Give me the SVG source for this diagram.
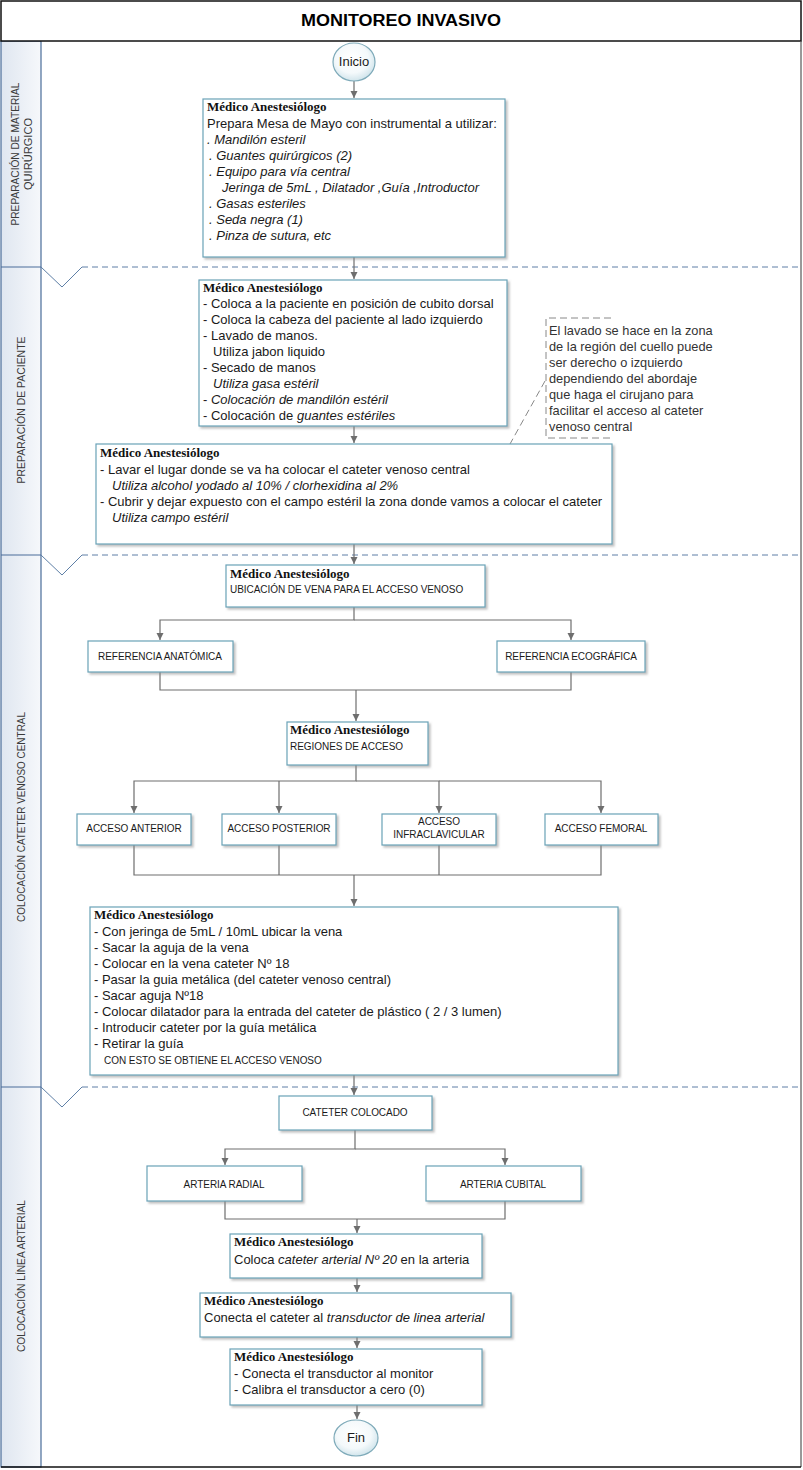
<svg xmlns="http://www.w3.org/2000/svg" width="803" height="1470" viewBox="0 0 803 1470">
<defs>
<linearGradient id="laneG" x1="0" y1="0" x2="1" y2="0">
<stop offset="0" stop-color="#dfe6f0"/><stop offset="1" stop-color="#f6f8fb"/>
</linearGradient>
<radialGradient id="ellG" cx="0.45" cy="0.4" r="0.65">
<stop offset="0" stop-color="#ffffff"/><stop offset="0.6" stop-color="#f4f9fb"/><stop offset="1" stop-color="#c9e0e8"/>
</radialGradient>
<filter id="sh" x="-5%" y="-5%" width="115%" height="125%">
<feDropShadow dx="2" dy="2" stdDeviation="1.2" flood-color="#8a8a8a" flood-opacity="0.55"/>
</filter>
<marker id="ar" markerWidth="8" markerHeight="8" refX="7" refY="4" orient="auto" markerUnits="userSpaceOnUse">
<path d="M0,0.5 L7,4 L0,7.5 Z" fill="#6e6e6e"/>
</marker>
</defs>
<style>
.box{fill:#ffffff;stroke:#6aa3b8;stroke-width:1.2;filter:url(#sh)}
.ell{fill:url(#ellG);stroke:#7eaab9;stroke-width:1.2}
.hd{font-family:"Liberation Serif",serif;font-weight:bold;font-size:13px;fill:#111}
.tx{font-family:"Liberation Sans",Arial,sans-serif;font-size:13px;fill:#1a1a1a}
.nt{font-family:"Liberation Sans",Arial,sans-serif;font-size:12.8px;fill:#333}
.it{font-style:italic}
.sm{font-family:"Liberation Sans",Arial,sans-serif;font-size:10px;fill:#1a1a1a;letter-spacing:-0.05px}
.lane{font-family:"Liberation Sans",Arial,sans-serif;font-size:10.5px;fill:#3a3a3a}
.cn{fill:none;stroke:#6e6e6e;stroke-width:1.2}
.sep{fill:none;stroke:#5e7fa6;stroke-width:1;stroke-dasharray:6,4}
.notch{fill:none;stroke:#5e7fa6;stroke-width:1}
.note{fill:none;stroke:#888;stroke-width:1;stroke-dasharray:7,4}
</style>
<rect x="0" y="0" width="803" height="1470" fill="#ffffff"/>
<!-- frame and lanes -->
<g id="frame">
<rect x="1" y="41" width="40" height="1426" fill="url(#laneG)" stroke="#4a6d99" stroke-width="1.2"/>
<line x1="1" y1="267" x2="41" y2="267" stroke="#4a6d99" stroke-width="1.2"/>
<line x1="1" y1="555" x2="41" y2="555" stroke="#4a6d99" stroke-width="1.2"/>
<line x1="1" y1="1087" x2="41" y2="1087" stroke="#4a6d99" stroke-width="1.2"/>
<rect x="1" y="1" width="800" height="40" fill="#ffffff" stroke="#111" stroke-width="1.5"/>
<line x1="801" y1="41" x2="801" y2="1467" stroke="#555" stroke-width="1.2"/>
<line x1="1" y1="1467" x2="801" y2="1467" stroke="#111" stroke-width="1.5"/>
<text x="401" y="26" text-anchor="middle" font-family="'Liberation Sans',Arial,sans-serif" font-weight="bold" font-size="16" fill="#000" textLength="200" lengthAdjust="spacingAndGlyphs">MONITOREO INVASIVO</text>
<path class="notch" d="M41,267 L62,287 L82,267"/>
<line class="sep" x1="82" y1="267" x2="800" y2="267"/>
<path class="notch" d="M41,555 L62,575 L82,555"/>
<line class="sep" x1="82" y1="555" x2="800" y2="555"/>
<path class="notch" d="M41,1087 L62,1107 L82,1087"/>
<line class="sep" x1="82" y1="1087" x2="800" y2="1087"/>
<text class="lane" transform="translate(19,154) rotate(-90)" text-anchor="middle" textLength="143" lengthAdjust="spacingAndGlyphs">PREPARACIÓN DE MATERIAL</text>
<text class="lane" transform="translate(32,154) rotate(-90)" text-anchor="middle" textLength="72" lengthAdjust="spacingAndGlyphs">QUIRÚRGICO</text>
<text class="lane" transform="translate(25,410) rotate(-90)" text-anchor="middle" textLength="147" lengthAdjust="spacingAndGlyphs">PREPARACIÓN DE PACIENTE</text>
<text class="lane" transform="translate(25,817) rotate(-90)" text-anchor="middle" textLength="210" lengthAdjust="spacingAndGlyphs">COLOCACIÓN CATETER VENOSO CENTRAL</text>
<text class="lane" transform="translate(25,1276) rotate(-90)" text-anchor="middle" textLength="152" lengthAdjust="spacingAndGlyphs">COLOCACIÓN LÍNEA ARTERIAL</text>
</g>
<!-- connectors -->
<g id="connectors">
<line class="cn" x1="354" y1="81" x2="354" y2="98" marker-end="url(#ar)"/>
<line class="cn" x1="354" y1="257" x2="354" y2="279" marker-end="url(#ar)"/>
<line class="cn" x1="354" y1="426" x2="354" y2="443" marker-end="url(#ar)"/>
<line class="cn" x1="354" y1="544" x2="354" y2="564" marker-end="url(#ar)"/>
<path class="cn" d="M354,607 V620 H160 V640" marker-end="url(#ar)"/>
<path class="cn" d="M354,620 H571 V640" marker-end="url(#ar)"/>
<path class="cn" d="M160,672 V690 H571 V672"/>
<line class="cn" x1="356" y1="690" x2="356" y2="721" marker-end="url(#ar)"/>
<path class="cn" d="M356,765 V781 H134 V813" marker-end="url(#ar)"/>
<path class="cn" d="M279,781 V813" marker-end="url(#ar)"/>
<path class="cn" d="M356,781 H439 V813" marker-end="url(#ar)"/>
<path class="cn" d="M439,781 H601 V813" marker-end="url(#ar)"/>
<path class="cn" d="M134,845 V875 H601 V845"/>
<line class="cn" x1="279" y1="845" x2="279" y2="875"/>
<line class="cn" x1="439" y1="845" x2="439" y2="875"/>
<line class="cn" x1="354" y1="875" x2="354" y2="906" marker-end="url(#ar)"/>
<line class="cn" x1="354" y1="1075" x2="354" y2="1095" marker-end="url(#ar)"/>
<path class="cn" d="M355,1130 V1149 H225 V1165" marker-end="url(#ar)"/>
<path class="cn" d="M355,1149 H505 V1165" marker-end="url(#ar)"/>
<path class="cn" d="M225,1201 V1219 H505 V1201"/>
<line class="cn" x1="357" y1="1219" x2="357" y2="1233" marker-end="url(#ar)"/>
<line class="cn" x1="357" y1="1278" x2="357" y2="1292" marker-end="url(#ar)"/>
<line class="cn" x1="357" y1="1337" x2="357" y2="1348" marker-end="url(#ar)"/>
<line class="cn" x1="357" y1="1405" x2="357" y2="1419" marker-end="url(#ar)"/>
<path class="note" d="M611,318 H546 V438 H611"/>
<line class="note" x1="545" y1="381" x2="510" y2="444"/>
</g>
<g id="inicio">
<ellipse class="ell" cx="354" cy="62" rx="21" ry="19"/>
<text class="tx" x="354" y="66" text-anchor="middle" font-size="12px">Inicio</text>
</g>
<g id="n1">
<rect class="box" x="203" y="99" width="302" height="158"/>
<text class="hd" x="207" y="111">Médico Anestesiólogo</text>
<text class="tx" x="207" y="128">Prepara Mesa de Mayo con instrumental a utilizar:</text>
<text class="tx it" x="207" y="144">. Mandilón esteril</text>
<text class="tx it" x="209" y="160">. Guantes quirúrgicos (2)</text>
<text class="tx it" x="209" y="176">. Equipo para vía central</text>
<text class="tx it" x="222" y="192">Jeringa de 5mL , Dilatador ,Guía ,Introductor</text>
<text class="tx it" x="209" y="208">. Gasas esteriles</text>
<text class="tx it" x="209" y="224">. Seda negra (1)</text>
<text class="tx it" x="209" y="240">. Pinza de sutura, etc</text>
</g>
<g id="n2">
<rect class="box" x="199" y="280" width="308" height="146"/>
<text class="hd" x="203" y="292">Médico Anestesiólogo</text>
<text class="tx" x="203" y="308">- Coloca a la paciente en posición de cubito dorsal</text>
<text class="tx" x="203" y="324">- Coloca la cabeza del paciente al lado izquierdo</text>
<text class="tx" x="203" y="340">- Lavado de manos.</text>
<text class="tx" x="213" y="356">Utiliza jabon liquido</text>
<text class="tx" x="203" y="372">- Secado de manos</text>
<text class="tx it" x="213" y="388">Utiliza gasa estéril</text>
<text class="tx" x="203" y="404">- <tspan class="it">Colocación de mandilón estéril</tspan></text>
<text class="tx" x="203" y="420">- Colocación de <tspan class="it">guantes estériles</tspan></text>
</g>
<g id="nota">
<text class="nt" x="549" y="335">El lavado se hace en la zona</text>
<text class="nt" x="549" y="351">de la región del cuello puede</text>
<text class="nt" x="549" y="367">ser derecho o izquierdo</text>
<text class="nt" x="549" y="383">dependiendo del abordaje</text>
<text class="nt" x="549" y="399">que haga el cirujano para</text>
<text class="nt" x="549" y="415">facilitar el acceso al cateter</text>
<text class="nt" x="549" y="431">venoso central</text>
</g>
<g id="n3">
<rect class="box" x="96" y="444" width="516" height="100"/>
<text class="hd" x="100" y="457">Médico Anestesiólogo</text>
<text class="tx" x="100" y="474">- Lavar el lugar donde se va ha colocar el cateter venoso central</text>
<text class="tx it" x="112" y="490">Utiliza alcohol yodado al 10% / clorhexidina al 2%</text>
<text class="tx" x="100" y="506">- Cubrir y dejar expuesto con el campo estéril la zona donde vamos a colocar el cateter</text>
<text class="tx it" x="112" y="522">Utiliza campo estéril</text>
</g>
<g id="n4">
<rect class="box" x="226" y="565" width="259" height="42"/>
<text class="hd" x="230" y="578">Médico Anestesiólogo</text>
<text class="sm" x="230" y="593">UBICACIÓN DE VENA PARA EL ACCESO VENOSO</text>
</g>
<g id="refana">
<rect class="box" x="88" y="641" width="145" height="31"/>
<text class="sm" x="160" y="660" text-anchor="middle">REFERENCIA ANATÓMICA</text>
</g>
<g id="refeco">
<rect class="box" x="497" y="641" width="148" height="31"/>
<text class="sm" x="571" y="660" text-anchor="middle">REFERENCIA ECOGRÁFICA</text>
</g>
<g id="regiones">
<rect class="box" x="287" y="722" width="141" height="43"/>
<text class="hd" x="290" y="734">Médico Anestesiólogo</text>
<text class="sm" x="290" y="750">REGIONES DE ACCESO</text>
</g>
<g id="anterior">
<rect class="box" x="77" y="814" width="114" height="31"/>
<text class="sm" x="134" y="832" text-anchor="middle">ACCESO ANTERIOR</text>
</g>
<g id="posterior">
<rect class="box" x="222" y="814" width="114" height="31"/>
<text class="sm" x="279" y="832" text-anchor="middle">ACCESO POSTERIOR</text>
</g>
<g id="infra">
<rect class="box" x="382" y="814" width="114" height="31"/>
<text class="sm" x="439" y="825" text-anchor="middle">ACCESO</text>
<text class="sm" x="439" y="838" text-anchor="middle">INFRACLAVICULAR</text>
</g>
<g id="femoral">
<rect class="box" x="545" y="814" width="113" height="31"/>
<text class="sm" x="601" y="832" text-anchor="middle">ACCESO FEMORAL</text>
</g>
<g id="n5">
<rect class="box" x="90" y="907" width="528" height="168"/>
<text class="hd" x="94" y="919">Médico Anestesiólogo</text>
<text class="tx" x="94" y="936">- Con jeringa de 5mL / 10mL ubicar la vena</text>
<text class="tx" x="94" y="952">- Sacar la aguja de la vena</text>
<text class="tx" x="94" y="968">- Colocar en la vena cateter Nº 18</text>
<text class="tx" x="94" y="984">- Pasar la guia metálica (del cateter venoso central)</text>
<text class="tx" x="94" y="1000">- Sacar aguja Nº18</text>
<text class="tx" x="94" y="1016">- Colocar dilatador para la entrada del cateter de plástico ( 2 / 3 lumen)</text>
<text class="tx" x="94" y="1032">- Introducir cateter por la guía metálica</text>
<text class="tx" x="94" y="1048">- Retirar la guía</text>
<text class="sm" x="104" y="1064">CON ESTO SE OBTIENE EL ACCESO VENOSO</text>
</g>
<g id="colocado">
<rect class="box" x="279" y="1096" width="153" height="34"/>
<text class="sm" x="355" y="1116" text-anchor="middle">CATETER COLOCADO</text>
</g>
<g id="radial">
<rect class="box" x="147" y="1166" width="155" height="35"/>
<text class="sm" x="224" y="1188" text-anchor="middle">ARTERIA RADIAL</text>
</g>
<g id="cubital">
<rect class="box" x="426" y="1166" width="155" height="35"/>
<text class="sm" x="503" y="1188" text-anchor="middle">ARTERIA CUBITAL</text>
</g>
<g id="n6">
<rect class="box" x="230" y="1234" width="252" height="44"/>
<text class="hd" x="234" y="1246">Médico Anestesiólogo</text>
<text class="tx" x="234" y="1264">Coloca <tspan class="it">cateter arterial Nº 20</tspan> en la arteria</text>
</g>
<g id="n7">
<rect class="box" x="200" y="1293" width="311" height="44"/>
<text class="hd" x="204" y="1305">Médico Anestesiólogo</text>
<text class="tx" x="204" y="1322">Conecta el cateter al <tspan class="it">transductor de linea arterial</tspan></text>
</g>
<g id="n8">
<rect class="box" x="230" y="1349" width="252" height="56"/>
<text class="hd" x="234" y="1361">Médico Anestesiólogo</text>
<text class="tx" x="234" y="1378">- Conecta el transductor al monitor</text>
<text class="tx" x="234" y="1394">- Calibra el transductor a cero (0)</text>
</g>
<g id="fin">
<ellipse class="ell" cx="356" cy="1438" rx="22" ry="18"/>
<text class="tx" x="356" y="1442" text-anchor="middle" font-size="12px">Fin</text>
</g>
</svg>
